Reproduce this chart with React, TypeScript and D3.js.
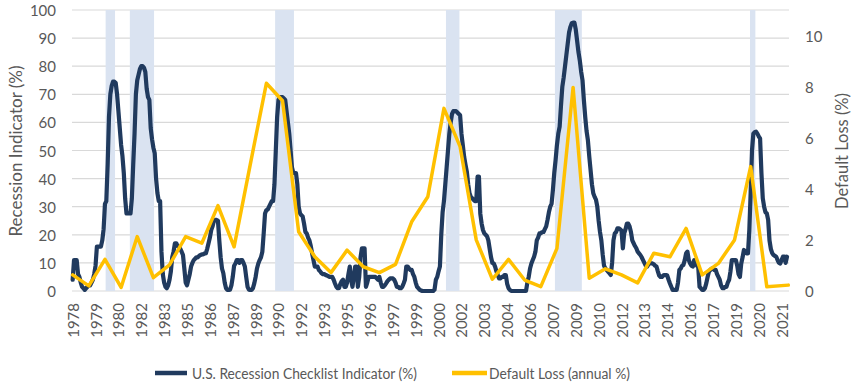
import React from 'react';
import * as d3 from 'd3';

// ---------- DATA ----------
const startYear = 1978;
const axisMonths = 533; // 1978-01 .. 2022-05 (category slots on the axis)

// U.S. Recession Checklist Indicator (%), monthly from 1978-01
const recessionIndicator: number[] = [
  // 1978
  4, 11, 11, 11, 6, 5, 3, 1.5, 1, 0.4, 1, 1.5,
  // 1979
  2, 2, 3, 4, 6, 9, 15.8, 15.8, 15.8, 15.8, 18, 22,
  // 1980
  31, 32, 45, 62, 70, 73, 74.5, 74.5, 74, 70, 64, 58,
  // 1981
  52, 48, 42, 33, 27.6, 27.6, 27.6, 27.6, 33, 45, 56, 70,
  // 1982
  75, 77, 79, 80, 80, 79.5, 78, 72, 69, 68, 58, 54,
  // 1983
  51, 49, 40, 34.8, 32, 32, 14, 6, 3, 1.5, 1, 2,
  // 1984
  4, 7, 12, 14, 17, 17, 16, 15.8, 15, 14, 12.8, 8,
  // 1985
  3, 2, 4, 6, 8.7, 10, 11, 11.5, 12, 12, 12.5, 12.8,
  // 1986
  13, 13, 13.4, 13.4, 15, 17, 19, 21.7, 23, 25, 25.3, 25.3,
  // 1987
  25, 18, 12, 8, 6.3, 3, 1, 0.4, 0.4, 0.5, 2, 5,
  // 1988
  9, 9.8, 11, 11, 10, 11, 11, 10, 8.7, 5, 1.5, 0.5,
  // 1989
  0.4, 0.4, 1, 2.7, 5, 8, 9.8, 11, 12, 14, 20.5, 27.6,
  // 1990
  28.8, 29, 30, 31, 32, 32, 38, 50, 62, 68, 69, 69,
  // 1991
  69, 68.5, 68, 64, 60, 56, 50, 44, 42, 42, 42, 38,
  // 1992
  30, 27.6, 27, 26.5, 24, 21, 20.5, 19, 18, 16, 13.4, 11,
  // 1993
  8.7, 8.7, 8.7, 7.5, 7, 6.3, 6, 6, 5.7, 5.5, 5.3, 5,
  // 1994
  5, 5, 4, 2.7, 1.5, 1, 1, 2.5, 3.5, 4, 1.5, 1.5,
  // 1995
  3, 6, 8.7, 4, 1.5, 5, 8.7, 8.7, 1.5, 5, 12, 15.2,
  // 1996
  15.2, 15.2, 1.5, 3, 5, 5, 5, 5, 5, 5, 4.5, 4,
  // 1997
  5, 3, 1.5, 1.5, 2, 2.7, 3.5, 4, 4.5, 4.5, 4.5, 4,
  // 1998
  3, 1.5, 1.5, 1, 1, 1.5, 2.7, 4, 8.7, 8.7, 8, 7.5,
  // 1999
  7.5, 6, 5, 3, 1.5, 1, 0.4, 0.2, 0, 0, 0, 0,
  // 2000
  0, 0, 0, 0, 0, 0.5, 4, 5, 7, 8.7, 20, 28,
  // 2001
  32, 38, 44, 50, 56, 60, 63, 64, 64, 64, 63.5, 63,
  // 2002
  62.6, 56, 52, 47.8, 45, 42.5, 38, 34.8, 33.5, 33, 32.5, 32,
  // 2003
  32, 40.7, 40.7, 27.6, 24, 21.7, 20.5, 20, 19.5, 18, 15, 12,
  // 2004
  10, 9.8, 8.7, 7, 5.7, 4.5, 4.5, 5, 5, 5.7, 5.7, 2.5,
  // 2005
  1, 0.4, 0, 0, 0, 0, 0, 0, 0, 0, 0, 0,
  // 2006
  0, 0, 3, 5, 8, 9.8, 11, 12.2, 14, 18, 19, 20.5,
  // 2007
  20.5, 21, 21, 22, 23, 25.3, 28, 30, 31, 36, 42, 46.6,
  // 2008
  52, 56, 58.5, 66, 72.7, 76, 80, 84, 88, 92, 94, 95.3,
  // 2009
  95.5, 95.5, 93, 89, 85, 82, 78, 75, 68, 62, 57, 53.7,
  // 2010
  48, 43, 38, 34.8, 33.5, 32.5, 30, 25, 21, 18, 13, 9,
  // 2011
  8, 7.5, 6.9, 6.3, 5.7, 10, 18, 20.5, 21, 22.3, 22.3, 22,
  // 2012
  21.5, 15.2, 20.5, 22, 24, 24, 23, 21, 18, 17, 16, 15.2,
  // 2013
  14, 13.4, 12.8, 12, 11, 10, 9, 8.7, 9.5, 9.8, 9.8, 9.8,
  // 2014
  9.5, 9, 8.7, 7, 5.5, 5, 5, 5.5, 5.7, 5.7, 5.5, 4,
  // 2015
  2.7, 1.5, 0.4, 0.4, 0.4, 0.4, 3, 7.5, 8, 9, 9.3, 11,
  // 2016
  13.4, 14, 11, 9.8, 9, 8.7, 11, 10, 9, 8.7, 1.5, 1,
  // 2017
  0.4, 0.4, 1, 2.7, 5, 6.9, 7.5, 8, 8, 7.5, 7.5, 6,
  // 2018
  5, 4, 2, 1, 1, 1.5, 1.5, 3, 4, 7, 11, 11,
  // 2019
  11, 11, 9, 6, 5, 9.8, 12, 14.6, 14, 13.4, 13.4, 21.7,
  // 2020
  35, 50, 56, 56.5, 56.7, 56, 55, 54.3, 42, 33, 30, 28,
  // 2021
  27.6, 25.3, 18, 15, 13.5, 12.8, 12.5, 12.2, 11, 10, 9.8, 11,
  // 2022
  12.2, 12.2, 10, 12.2,
];

// Default Loss (annual %), points placed at these months
const defaultLossDates: string[] = [
  '1978-01', '1979-01', '1980-01', '1981-01', '1982-01', '1983-01', '1984-01', '1985-01',
  '1986-01', '1987-01', '1988-01', '1989-01', '1990-01', '1991-01', '1992-01', '1993-01',
  '1994-01', '1995-01', '1996-01', '1997-01', '1998-01', '1999-01', '2000-01', '2001-01',
  '2002-01', '2003-01', '2004-01', '2005-01', '2006-01', '2007-01', '2008-01', '2009-01',
  '2010-01', '2011-01', '2012-01', '2013-01', '2014-01', '2015-01', '2016-01', '2017-01',
  '2018-01', '2019-01', '2020-01', '2021-01', '2022-05',
];
const defaultLoss: number[] = [
  0.63, 0.2, 1.24, 0.14, 2.13, 0.52, 1.02, 2.13,
  1.87, 3.34, 1.73, 4.95, 8.13, 7.45, 2.32, 1.34,
  0.72, 1.6, 0.95, 0.72, 1.04, 2.71, 3.69, 7.15,
  5.65, 2.0, 0.46, 1.24, 0.43, 0.17, 1.67, 7.97,
  0.5, 0.87, 0.63, 0.32, 1.48, 1.34, 2.45, 0.63,
  1.08, 2.0, 4.87, 0.17, 0.23,
];

// Recession shading (first and last shaded month)
const recessionStarts: string[] = ['1980-02', '1981-08', '1990-08', '2001-03', '2007-12', '2020-01'];
const recessionEnds: string[] = ['1980-08', '1983-01', '1991-09', '2001-12', '2009-07', '2020-04'];

const xTickLabels: string[] = [
  '1978', '1979', '1980', '1982', '1983', '1985', '1986', '1987', '1989', '1990', '1992',
  '1993', '1995', '1996', '1997', '1999', '2000', '2002', '2003', '2004', '2006', '2007',
  '2009', '2010', '2012', '2013', '2014', '2016', '2017', '2019', '2020', '2021',
];
const xLabelInterval = 17; // months between category labels
const leftTicks: number[] = [0, 10, 20, 30, 40, 50, 60, 70, 80, 90, 100];
const rightTicks: number[] = [0, 2, 4, 6, 8, 10];

const seriesNames = ['U.S. Recession Checklist Indicator (%)', 'Default Loss (annual %)'];

// ---------- STYLE ----------
const W = 861;
const H = 382;
const plot = { left: 72, right: 789, top: 10, bottom: 291 };
const navy = '#203a5e';
const gold = '#ffc000';
const bandFill = '#dae3f1';
const gridColor = '#d9d9d9';
const textColor = '#595959';
const font = 'Lato, "Open Sans", sans-serif';

const monthIndex = (s: string) => {
  const [y, m] = s.split('-').map(Number);
  return (y - startYear) * 12 + (m - 1);
};

export default function App() {
  const x = d3
    .scaleBand<number>()
    .domain(d3.range(axisMonths))
    .range([plot.left, plot.right])
    .paddingInner(0)
    .paddingOuter(0);
  const bw = x.bandwidth();
  const cx = (i: number) => (x(i) as number) + bw / 2;

  const yL = d3.scaleLinear().domain([0, 100]).range([plot.bottom, plot.top]);
  const yR = d3.scaleLinear().domain([0, 11]).range([plot.bottom, plot.top]);

  const navyLine = d3
    .line<number>()
    .x((_, i) => cx(i))
    .y((d) => yL(d))(recessionIndicator) as string;

  const goldPts = defaultLoss.map((v, i) => [cx(monthIndex(defaultLossDates[i])), yR(v)] as [number, number]);
  const goldLine = d3.line()(goldPts) as string;

  return (
    <svg
      width={W}
      height={H}
      style={{ position: 'absolute', left: 0, top: 0, background: '#fff' }}
      fontFamily={font}
    >
      {/* gridlines */}
      {leftTicks.map((t) => (
        <line key={'g' + t} x1={plot.left} x2={plot.right} y1={yL(t)} y2={yL(t)} stroke={gridColor} strokeWidth={1.2} />
      ))}
      {/* recession bands */}
      {recessionStarts.map((s, i) => {
        const a = monthIndex(s);
        const b = monthIndex(recessionEnds[i]);
        const x0 = x(a) as number;
        const x1 = (x(b) as number) + bw;
        return <rect key={'r' + i} x={x0} y={plot.top} width={x1 - x0} height={plot.bottom - plot.top} fill={bandFill} />;
      })}
      {/* series */}
      <path d={navyLine} fill="none" stroke={navy} strokeWidth={4.2} strokeLinejoin="round" strokeLinecap="round" />
      <path d={goldLine} fill="none" stroke={gold} strokeWidth={3.5} strokeLinejoin="round" strokeLinecap="round" />

      {/* left axis ticks */}
      {leftTicks.map((t) => (
        <text key={'l' + t} x={56} y={yL(t)} textAnchor="end" dominantBaseline="central" fontSize={15} fill={textColor}>
          {t}
        </text>
      ))}
      {/* right axis ticks */}
      {rightTicks.map((t) => (
        <text key={'rt' + t} x={805} y={yR(t)} textAnchor="start" dominantBaseline="central" fontSize={15} fill={textColor}>
          {t}
        </text>
      ))}
      {/* x labels */}
      {xTickLabels.map((lab, i) => {
        const px = cx(i * xLabelInterval);
        return (
          <text
            key={'x' + i}
            transform={`translate(${px},${plot.bottom + 12}) rotate(-90)`}
            textAnchor="end"
            dominantBaseline="central"
            fontSize={15}
            fill={textColor}
          >
            {lab}
          </text>
        );
      })}
      {/* axis titles */}
      <text transform={`translate(15,151) rotate(-90)`} textAnchor="middle" dominantBaseline="central" fontSize={17} fill={textColor}>
        Recession Indicator (%)
      </text>
      <text transform={`translate(842,151) rotate(-90)`} textAnchor="middle" dominantBaseline="central" fontSize={16.5} fill={textColor}>
        Default Loss (%)
      </text>

      {/* legend */}
      <line x1={155} x2={187} y1={373} y2={373} stroke={navy} strokeWidth={4.5} />
      <text
        x={192}
        y={373}
        dominantBaseline="central"
        fontSize={15.5}
        fill={textColor}
        textLength={225}
        lengthAdjust="spacingAndGlyphs"
      >
        {seriesNames[0]}
      </text>
      <line x1={452} x2={487} y1={373} y2={373} stroke={gold} strokeWidth={4.5} />
      <text
        x={489}
        y={373}
        dominantBaseline="central"
        fontSize={15.5}
        fill={textColor}
        textLength={141}
        lengthAdjust="spacingAndGlyphs"
      >
        {seriesNames[1]}
      </text>
    </svg>
  );
}
